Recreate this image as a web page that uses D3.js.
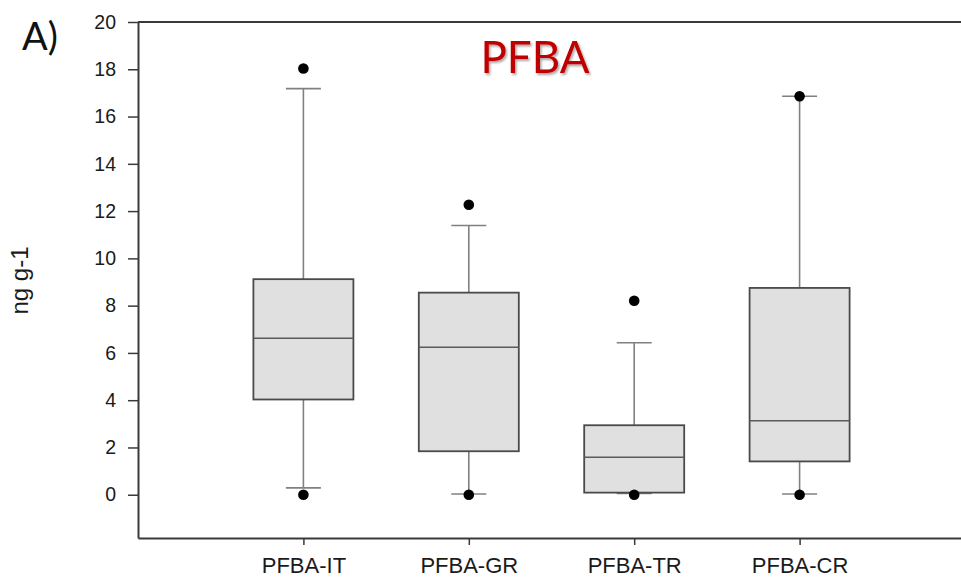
<!DOCTYPE html>
<html>
<head>
<meta charset="utf-8">
<script src="https://cdn.jsdelivr.net/npm/d3@7/dist/d3.min.js"></script>
<style>
  html, body { margin: 0; padding: 0; background: #fff; }
  svg { display: block; }
</style>
</head>
<body>
<svg id="chart" width="961" height="579"></svg>
<script>
// ---- data ----
const categories = ["PFBA-IT", "PFBA-GR", "PFBA-TR", "PFBA-CR"];
const whiskerLow  = [0.29, 0.03, 0.05, 0.03];
const q1          = [4.03, 1.84, 0.09, 1.41];
const median      = [6.62, 6.24, 1.59, 3.13];
const q3          = [9.12, 8.55, 2.94, 8.75];
const whiskerHigh = [17.18, 11.39, 6.43, 16.86];
const outliersHigh = [18.03, 12.27, 8.21, 16.86];
const outliersLow  = [0.0, 0.0, 0.0, 0.0];
const yTicks = [0, 2, 4, 6, 8, 10, 12, 14, 16, 18, 20];
const titleText = "PFBA";
const panelLabel = "A)";
const yLabel = "ng g-1";

(function () {
const data = categories.map((c, i) => ({
  cat: c, lo: whiskerLow[i], q1: q1[i], med: median[i], q3: q3[i], hi: whiskerHigh[i],
  out: [outliersHigh[i], outliersLow[i]]
}));

const svg = d3.select("#chart");
const pLeft = 138, pRight = 965, pTop = 22, pBottom = 538;

const y = d3.scaleLinear().domain([-1.83, 20]).range([pBottom, pTop]);
const x = d3.scalePoint().domain(categories).range([pLeft, pRight]).padding(1);

const boxW = 100, capW = 35;
const axisColor = "#3a3a3a";

// drop shadow filter for title
const defs = svg.append("defs");
const f = defs.append("filter").attr("id", "shadow").attr("x", "-10%").attr("y", "-10%").attr("width", "130%").attr("height", "140%");
f.append("feDropShadow").attr("dx", 1.5).attr("dy", 2).attr("stdDeviation", 1.2)
  .attr("flood-color", "#000").attr("flood-opacity", 0.35);

// top frame line
svg.append("line").attr("x1", pLeft).attr("x2", pRight).attr("y1", y(20)).attr("y2", y(20))
  .attr("stroke", axisColor).attr("stroke-width", 2);

// boxes
const g = svg.append("g");
const items = g.selectAll("g.item").data(data).join("g").attr("class", "item")
  .attr("transform", d => `translate(${x(d.cat)},0)`);

// whiskers
items.append("line").attr("x1", 0).attr("x2", 0).attr("y1", d => y(d.q3)).attr("y2", d => y(d.hi))
  .attr("stroke", "#808080").attr("stroke-width", 1.6);
items.append("line").attr("x1", 0).attr("x2", 0).attr("y1", d => y(d.q1)).attr("y2", d => y(d.lo))
  .attr("stroke", "#808080").attr("stroke-width", 1.6);
items.append("line").attr("x1", -capW / 2).attr("x2", capW / 2).attr("y1", d => y(d.hi)).attr("y2", d => y(d.hi))
  .attr("stroke", "#808080").attr("stroke-width", 1.6);
items.append("line").attr("x1", -capW / 2).attr("x2", capW / 2).attr("y1", d => y(d.lo)).attr("y2", d => y(d.lo))
  .attr("stroke", "#808080").attr("stroke-width", 1.6);

// box
items.append("rect").attr("x", -boxW / 2).attr("width", boxW)
  .attr("y", d => y(d.q3)).attr("height", d => y(d.q1) - y(d.q3))
  .attr("fill", "#e0e0e0").attr("stroke", "#4a4a4a").attr("stroke-width", 1.8);
items.append("line").attr("x1", -boxW / 2).attr("x2", boxW / 2).attr("y1", d => y(d.med)).attr("y2", d => y(d.med))
  .attr("stroke", "#5a5a5a").attr("stroke-width", 1.5);

// outliers
items.selectAll("circle").data(d => d.out).join("circle")
  .attr("cx", 0).attr("cy", v => y(v)).attr("r", 5.3).attr("fill", "#000");

// axes
const yAxis = d3.axisLeft(y).tickValues(yTicks).tickSize(10).tickPadding(12).tickSizeOuter(0);
const ya = svg.append("g").attr("transform", `translate(${pLeft},0)`).call(yAxis);
ya.select(".domain").attr("stroke", axisColor).attr("stroke-width", 2);
ya.selectAll(".tick line").attr("stroke", axisColor).attr("stroke-width", 1.5);
ya.selectAll(".tick text").attr("font-family", "Liberation Sans, Arial, sans-serif")
  .attr("font-size", 19.5).attr("fill", "#1a1a1a");

const xAxis = d3.axisBottom(x).tickSize(7).tickPadding(12).tickSizeOuter(0);
const xa = svg.append("g").attr("transform", `translate(0,${pBottom})`).call(xAxis);
xa.select(".domain").attr("stroke", axisColor).attr("stroke-width", 2.2);
xa.selectAll(".tick line").attr("stroke", axisColor).attr("stroke-width", 1.5);
xa.selectAll(".tick text").attr("font-family", "Liberation Sans, Arial, sans-serif")
  .attr("font-size", 22).attr("fill", "#1a1a1a");

// y label
svg.append("text").attr("transform", "translate(28,280.5) rotate(-90)")
  .attr("text-anchor", "middle").attr("font-family", "Liberation Sans, Arial, sans-serif")
  .attr("font-size", 24).attr("fill", "#1a1a1a").text(yLabel);

// title
svg.append("text").attr("x", 535).attr("y", 73).attr("text-anchor", "middle")
  .attr("font-family", "Lato, 'Open Sans', sans-serif").attr("font-size", 44)
  .attr("fill", "#c00000").attr("filter", "url(#shadow)").text(titleText);

// panel label
svg.append("text").attr("x", 22).attr("y", 50)
  .attr("font-family", "Lato, 'Open Sans', sans-serif").attr("font-size", 38)
  .attr("fill", "#111").text(panelLabel);
})();
</script>
</body>
</html>
